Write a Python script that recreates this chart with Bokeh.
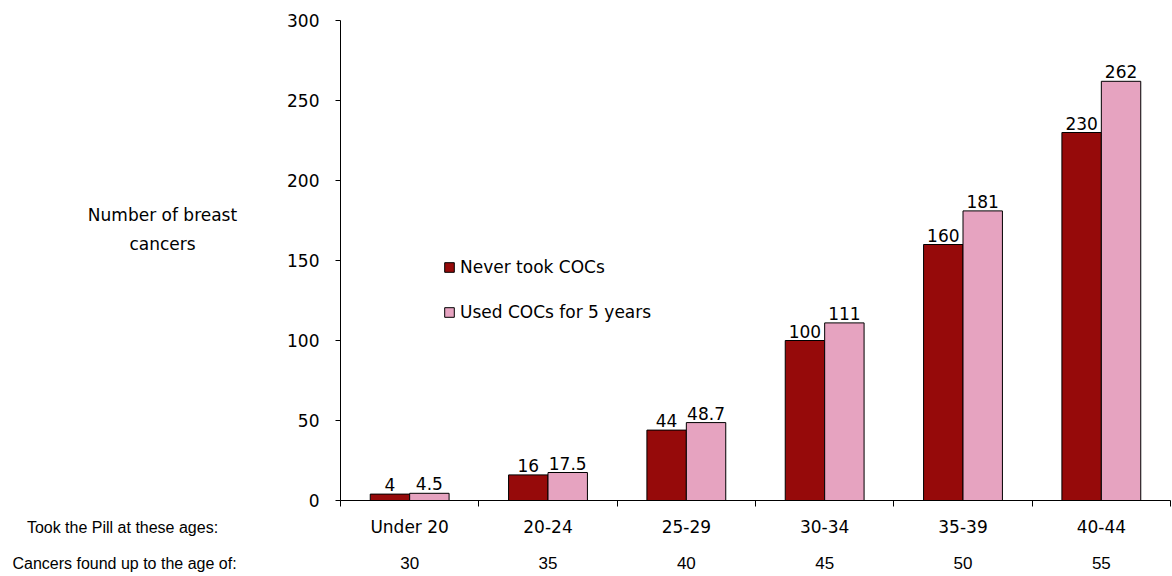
from bokeh.plotting import figure
from bokeh.layouts import row
from bokeh.models import (Range1d, FixedTicker, LinearAxis, Label, Legend, LegendItem,
                          ColumnDataSource, CustomJSTickFormatter)
from bokeh.embed import file_html
from bokeh.resources import INLINE
from bokeh.core.properties import value
import numpy as np

categories = ["Under 20", "20-24", "25-29", "30-34", "35-39", "40-44"]
ages_found = ["30", "35", "40", "45", "50", "55"]
never_took = [4, 16, 44, 100, 160, 230]
used_5yrs = [4.5, 17.5, 48.7, 111, 181, 262]
never_labels = ["4", "16", "44", "100", "160", "230"]
used_labels = ["4.5", "17.5", "48.7", "111", "181", "262"]
y_ticks = [0, 50, 100, 150, 200, 250, 300]
row_headers = ["Took the Pill at these ages:", "Cancers found up to the age of:"]

FONT = "DejaVu Sans"
FONT2 = "Liberation Sans"
DARK = "#960A0A"
PINK = "#E6A3C0"

W, H = 1172, 576
LEFT_W = 280


def style_label_axis(ax, standoff, font, size):
    ax.axis_line_color = None
    ax.major_tick_line_color = None
    ax.minor_tick_line_color = None
    ax.major_tick_out = 0
    ax.major_tick_in = 0
    ax.major_label_standoff = standoff
    ax.major_label_text_font = font
    ax.major_label_text_font_size = size
    ax.major_label_text_color = "black"


n = len(categories)
centers = np.arange(n) + 0.5
bw = 0.285
src = ColumnDataSource(dict(x1=centers - bw / 2, x2=centers + bw / 2,
                            never=never_took, used=used_5yrs,
                            nl=never_labels, ul=used_labels))

# ---- left panel holding the side texts (frame is aligned with the chart frame) ----
left = figure(width=LEFT_W, height=H, output_backend="svg", toolbar_location=None,
              x_range=Range1d(0, LEFT_W), y_range=Range1d(500, 20),
              x_axis_type=None, y_axis_type=None, outline_line_color=None,
              min_border=0, min_border_top=20, min_border_bottom=76)
left.add_layout(Label(x=162, y=229, text="Number of breast\ncancers",
                      text_align="center", text_baseline="middle", text_font=FONT,
                      text_font_size="17px", text_line_height=1.45,
                      text_color="black"))
lh1 = LinearAxis(ticker=FixedTicker(ticks=[122]),
                 formatter=CustomJSTickFormatter(args=dict(t=row_headers[0]),
                                                 code="return t;"))
style_label_axis(lh1, 18, FONT2, "16px")
left.add_layout(lh1, "below")
lh2 = LinearAxis(ticker=FixedTicker(ticks=[124]),
                 formatter=CustomJSTickFormatter(args=dict(t=row_headers[1]),
                                                 code="return t;"))
style_label_axis(lh2, 16, FONT2, "16px")
left.add_layout(lh2, "below")

# ---- main chart ----
p = figure(width=W - LEFT_W, height=H, output_backend="svg", toolbar_location=None,
           x_range=Range1d(0, n), y_range=Range1d(0, 300),
           min_border_left=60, min_border_right=2, min_border_top=20,
           min_border_bottom=76, outline_line_color=None)
p.xgrid.visible = False
p.ygrid.visible = False

r1 = p.vbar(x="x1", top="never", width=bw, source=src, fill_color=DARK,
            line_color="black", line_width=1)
r2 = p.vbar(x="x2", top="used", width=bw, source=src, fill_color=PINK,
            line_color="black", line_width=1)

for xcol, ycol, tcol in (("x1", "never", "nl"), ("x2", "used", "ul")):
    p.text(x=xcol, y=ycol, text=tcol, source=src, text_align="center",
           text_baseline="bottom", y_offset=-3, text_font=value(FONT),
           text_font_size="17px", text_color="black")

# y axis
ya = p.yaxis[0]
ya.ticker = FixedTicker(ticks=y_ticks)
ya.major_tick_out = 5
ya.major_tick_in = 0
ya.minor_tick_line_color = None
ya.axis_line_color = "black"
ya.major_tick_line_color = "black"
ya.major_label_standoff = 16
ya.major_label_text_font = FONT
ya.major_label_text_font_size = "17px"
ya.major_label_text_color = "black"

# x axis: category labels at centers, boundary ticks as minor ticks
xa = p.xaxis[0]
xa.ticker = FixedTicker(ticks=list(centers), minor_ticks=list(range(n + 1)))
xa.formatter = CustomJSTickFormatter(args=dict(labels=categories),
                                     code="return labels[Math.floor(tick)] || '';")
xa.major_tick_line_color = None
xa.major_tick_out = 0
xa.major_tick_in = 0
xa.minor_tick_out = 6
xa.minor_tick_in = 0
xa.minor_tick_line_color = "black"
xa.axis_line_color = "black"
xa.major_label_standoff = 10
xa.major_label_text_font = FONT
xa.major_label_text_font_size = "17px"
xa.major_label_text_color = "black"

# second row: ages
xa2 = LinearAxis(ticker=FixedTicker(ticks=list(centers)),
                 formatter=CustomJSTickFormatter(args=dict(labels=ages_found),
                                                 code="return labels[Math.floor(tick)] || '';"))
style_label_axis(xa2, 17, FONT2, "17px")
p.add_layout(xa2, "below")

legend = Legend(items=[LegendItem(label="Never took COCs", renderers=[r1]),
                       LegendItem(label="Used COCs for 5 years", renderers=[r2])],
                location=(103, 177), orientation="vertical",
                glyph_width=12, glyph_height=12, label_standoff=5, spacing=23,
                padding=0, margin=0, border_line_color=None,
                background_fill_alpha=0, label_text_font=FONT,
                label_text_font_size="17px", label_height=22,
                label_text_color="black")
p.add_layout(legend)

layout = row(left, p)
open("out.html", "w").write(file_html(layout, INLINE))
